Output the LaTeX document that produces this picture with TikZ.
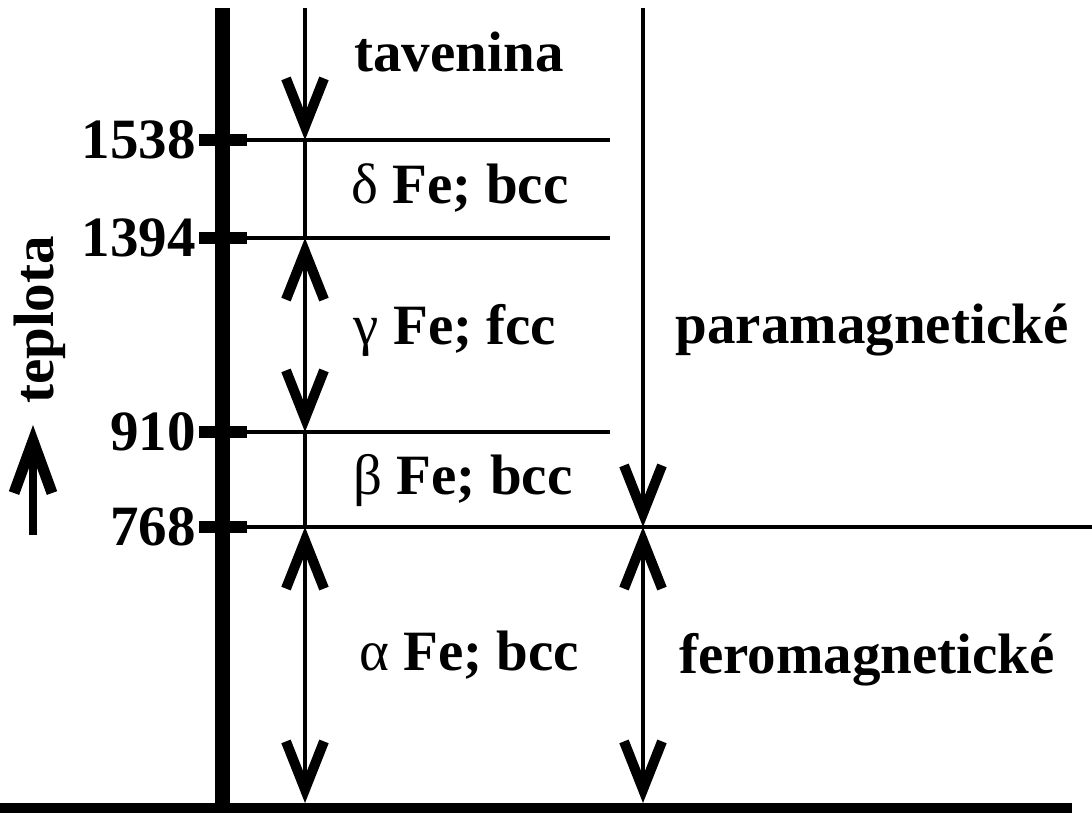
\documentclass[tikz,border=0pt]{standalone}
\usepackage{fontspec}
\setmainfont{Liberation Serif}
\usetikzlibrary{arrows.meta}

\begin{document}
\begin{tikzpicture}[
      x=0.5pt, y=-0.5pt,
      lbl/.style={
        font=\fontsize{28.5}{32}\selectfont\bfseries,
        inner sep=0pt
      },
      temp/.style={lbl, anchor=east},
      level/.style={line width=2pt},
      tickmark/.style={line width=6pt},
      tip/.style={-{Straight Barb[length=24pt,width=19pt,line width=5pt]}},
      arr/.style={line width=2pt, tip},
      darr/.style={line width=2pt, {Straight Barb[length=24pt,width=19pt,line width=5pt]}-{Straight Barb[length=24pt,width=19pt,line width=5pt]}}
    ]
    \useasboundingbox (0,0) rectangle (1092,813);

    % temperature axis and base
    \coordinate (AxTop) at (222,8);
    \coordinate (AxBot) at (222,813);
    \coordinate (BaseL) at (0,808);
    \coordinate (BaseR) at (1072,808);
    \draw [line width=7.5pt] (AxTop) -- (AxBot);
    \draw [line width=5pt] (BaseL) -- (BaseR);

    % transition temperatures
    \foreach \t/\y/\r in {1538/140/610, 1394/238/610, 910/432/610, 768/527/1092} {
      \coordinate (TickL\t) at (199,\y);
      \coordinate (TickR\t) at (247,\y);
      \coordinate (LineL\t) at (222,\y);
      \coordinate (LineR\t) at (\r,\y);
      \draw [level] (LineL\t) -- (LineR\t);
      \draw [tickmark] (TickL\t) -- (TickR\t);
      \node [temp] (Temp\t) at (196,\y) {\t};
    }

    % structure column
    \coordinate (S0) at (305,8);
    \coordinate (S1) at (305,140);
    \coordinate (S2) at (305,238);
    \coordinate (S3) at (305,432);
    \coordinate (S4) at (305,527);
    \coordinate (S5) at (305,803);
    \draw [arr] (S0) -- (S1);
    \draw [level] (S1) -- (S2);
    \draw [darr] (S2) -- (S3);
    \draw [level] (S3) -- (S4);
    \draw [darr] (S4) -- (S5);

    % magnetic column
    \coordinate (M0) at (643,8);
    \coordinate (M1) at (643,527);
    \coordinate (M2) at (643,803);
    \draw [arr] (M0) -- (M1);
    \draw [darr] (M1) -- (M2);

    \node [lbl] (Melt) at (459,52) {tavenina};
    \node [lbl] (Delta) at (460,188) {{\mdseries δ} Fe; bcc};
    \node [lbl] (Gamma) at (455,330) {{\mdseries γ} Fe; fcc};
    \node [lbl] (Beta) at (463,480) {{\mdseries β} Fe; bcc};
    \node [lbl] (Alpha) at (469,655) {{\mdseries α} Fe; bcc};
    \node [lbl] (Para) at (872,330) {paramagnetické};
    \node [lbl] (Fero) at (867,660) {feromagnetické};

    % axis label
    \node [lbl, rotate=90] (TempLbl) at (40,320) {teplota};
    \coordinate (UpA) at (33,535);
    \coordinate (UpB) at (33,425);
    \draw [line width=4pt, -{Straight Barb[length=26pt,width=19pt,line width=5.5pt]}] (UpA) -- (UpB);

    \end{tikzpicture}
\end{document}
